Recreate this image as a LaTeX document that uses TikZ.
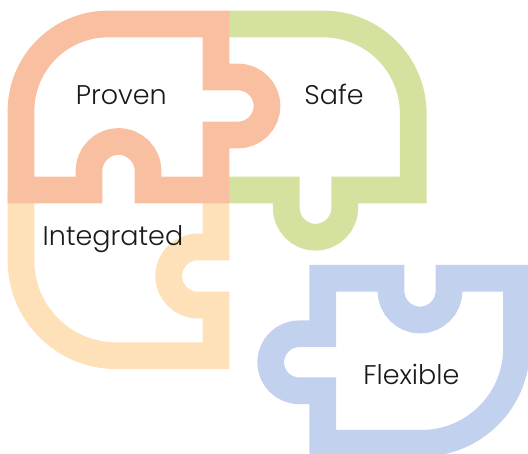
\documentclass[tikz,border=0pt]{standalone}
\usepackage{fontspec}
\setmainfont{Poppins}[UprightFont=* Light]
\definecolor{cproven}{HTML}{F8C0A1}
\definecolor{csafe}{HTML}{D4E19F}
\definecolor{cinteg}{HTML}{FEE1B9}
\definecolor{cflex}{HTML}{C2D2EE}
\definecolor{ctext}{HTML}{1A1A1A}
\begin{document}
\begin{tikzpicture}[x=1pt,y=1pt,
  piece/.style={line width=26.7pt, line join=miter, line cap=butt},
  lbl/.style={anchor=base, text=ctext, inner sep=0pt, font=\fontsize{27}{32}\selectfont}]
\useasboundingbox (0,0) rectangle (528,454);
% Integrated
\draw[piece, cinteg] (21,264) -- (21,193.3) arc[start angle=180,end angle=270,radius=95]
  -- (216,98.3) -- (216,149) -- (197.7,149) arc[start angle=-90,end angle=-270,radius=29]
  -- (216,207) -- (216,264);
% Safe
\draw[piece, csafe] (229,430) -- (323.3,430) arc[start angle=90,end angle=0,radius=90]
  -- (413.3,264) -- (344.7,264) -- (344.7,246) arc[start angle=0,end angle=-180,radius=29.2]
  -- (286.3,264) -- (229,264);
% Proven
\draw[piece, cproven] (21,264) -- (21,343) arc[start angle=180,end angle=90,radius=87]
  -- (216,430) -- (216,377) -- (238,377) arc[start angle=90,end angle=-90,radius=29]
  -- (216,319) -- (216,264) -- (148,264) -- (148,283) arc[start angle=0,end angle=180,radius=29.5]
  -- (89,264) -- cycle;
% Flexible
\draw[piece, cflex] (322.7,175.7) -- (391,175.7) -- (391,163) arc[start angle=180,end angle=360,radius=29]
  -- (449,175.7) -- (516.5,175.7) -- (516.5,105.7) arc[start angle=0,end angle=-90,radius=95]
  -- (322.7,10.7) -- (322.7,63.2) -- (299.2,63.2) arc[start angle=270,end angle=90,radius=28.5]
  -- (322.7,120.2) -- cycle;
% Labels
\node[lbl] (proven) at (121.3,349) {Proven};
\node[lbl] (safe) at (334,349) {Safe};
\node[lbl] (integrated) at (113,208) {Integrated};
\node[lbl] (flexible) at (411.3,69) {Flexible};
\end{tikzpicture}
\end{document}
